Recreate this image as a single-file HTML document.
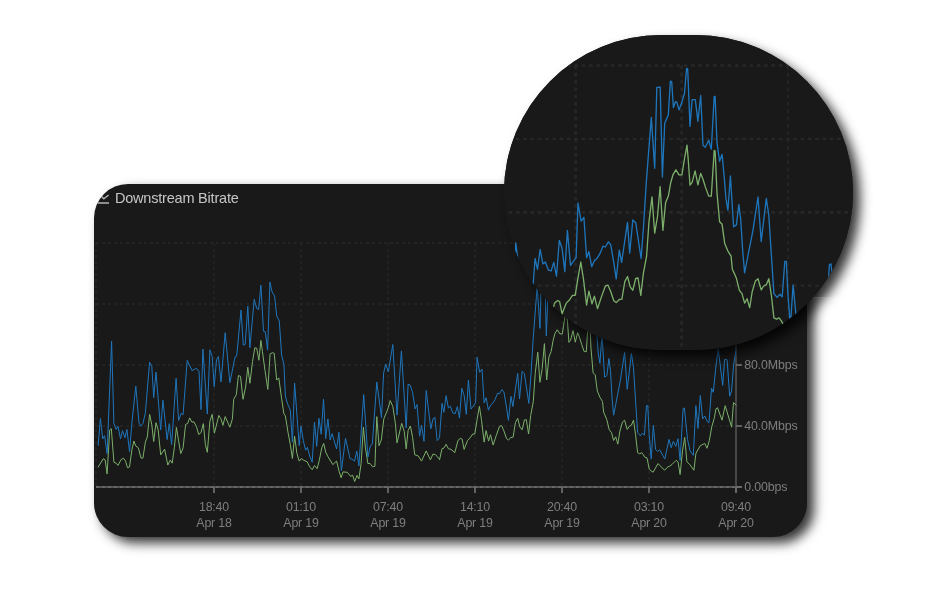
<!DOCTYPE html>
<html lang="en">
<head>
<meta charset="utf-8">
<title>Downstream Bitrate</title>
<style>
html,body{margin:0;padding:0;background:#fff;}
body{width:940px;height:600px;position:relative;overflow:hidden;font-family:"Liberation Sans",sans-serif;}
.card{position:absolute;left:93.6px;top:183.6px;width:713.2px;height:353px;background:#191919;border-radius:34px 0 34px 34px;box-shadow:7px 6px 12px rgba(0,0,0,.8);overflow:hidden;}
.lens{position:absolute;left:0;top:0;width:940px;height:600px;clip-path:polygon(0 0,940px 0,940px 297.3px,806.8px 297.3px,806.8px 600px,0 600px);}
.card svg{position:absolute;left:-93.6px;top:-183.6px;}
.mag{position:absolute;left:504px;top:35px;width:348.5px;height:315.3px;background:#191919;border-radius:158px;overflow:hidden;}
.ms{position:absolute;left:504px;top:35px;width:348.5px;height:315.3px;border-radius:158px;background:#191919;}
.weak{position:absolute;left:0;top:0;width:940px;height:600px;clip-path:polygon(806.8px 297.3px,940px 297.3px,940px 600px,806.8px 600px);}
.mag svg{position:absolute;left:-504px;top:-35px;}
svg text{font-family:"Liberation Sans",sans-serif;}
.title{font-size:14.5px;fill:#c6c6c6;letter-spacing:-0.2px;}
.xl text{font-size:12.4px;letter-spacing:-0.2px;fill:#7e7e7e;text-anchor:middle;}
.yl text{font-size:12.4px;letter-spacing:-0.15px;fill:#7e7e7e;}
.grid path{stroke:#272727;stroke-width:1.6;stroke-dasharray:3 3;fill:none;}
.grid path.v{stroke-width:1.35;}
.mgrid path{stroke:#272727;stroke-dasharray:3.65 3.65;fill:none;}
.axis path{stroke:#555555;stroke-width:1.8;fill:none;}
.ticks path{stroke:#707070;stroke-width:1.7;fill:none;}
.s{fill:none;stroke-linejoin:round;stroke-linecap:round;}
.b{stroke:#1f76bd;}
.g{stroke:#7cb06b;}
.m1{stroke-width:1.0;}
.m2{stroke-width:1.3;filter:url(#soft);}
</style>
</head>
<body>
<div class="card">
<svg width="940" height="600" viewBox="0 0 940 600">
<g class="grid"><path class="v" d="M96 243V487" /><path class="v" d="M214 243V487" /><path class="v" d="M301 243V487" /><path class="v" d="M388 243V487" /><path class="v" d="M475 243V487" /><path class="v" d="M562 243V487" /><path class="v" d="M649 243V487" /><path d="M96 243H736" /><path d="M96 304H736" /><path d="M96 365H736" /><path d="M96 426H736" /></g>
<g class="axis"><path d="M96 487H742"/><path d="M736 243V493" style="stroke:#4c4c4c"/><path d="M96 487H736" stroke-dasharray="3 3" style="stroke:#666"/></g>
<g class="ticks"><path d="M214 487V493"/><path d="M301 487V493"/><path d="M388 487V493"/><path d="M475 487V493"/><path d="M562 487V493"/><path d="M649 487V493"/><path d="M736 487V493"/><path d="M736 365H742"/><path d="M736 426H742"/><path d="M736 487H742"/></g>
<path class="s g m1" d="M98.2 467.0 L103.3 458.7 L105.2 460.0 L107.1 474.0 L109.7 430.0 L111.3 428.7 L113.9 462.2 L116.1 463.2 L118.0 465.4 L121.2 459.4 L123.7 458.3 L125.6 461.3 L127.5 467.7 L129.5 467.0 L132.0 449.1 L133.9 441.1 L135.8 446.0 L138.4 447.9 L141.0 458.1 L142.9 458.1 L145.4 442.1 L147.3 437.0 L149.6 414.4 L151.8 424.9 L153.7 441.5 L156.0 422.7 L158.2 430.0 L160.7 454.9 L164.6 449.1 L167.8 465.1 L170.3 460.0 L172.2 463.2 L174.4 447.2 L176.4 427.4 L178.6 440.9 L180.8 453.6 L183.1 447.9 L185.6 424.3 L187.6 423.6 L189.7 417.9 L192.0 422.3 L193.9 421.7 L196.5 426.8 L198.7 434.5 L201.0 432.6 L203.3 423.6 L205.4 444.7 L207.3 452.3 L209.9 421.1 L212.2 414.3 L214.4 433.2 L218.8 415.4 L221.0 418.9 L222.9 425.3 L225.2 416.6 L229.9 427.2 L232.4 418.9 L233.7 399.3 L236.3 394.8 L238.4 375.6 L240.5 376.3 L243.0 399.3 L245.6 387.1 L247.8 367.3 L249.9 383.3 L252.5 361.6 L254.8 347.8 L256.7 348.2 L258.9 360.3 L260.9 340.4 L262.4 351.4 L265.0 370.5 L267.8 389.4 L270.1 353.9 L272.4 352.7 L274.2 353.3 L276.7 380.1 L278.8 377.9 L281.6 398.6 L283.9 413.9 L285.4 415.9 L288.0 432.3 L290.3 444.5 L292.4 458.5 L294.6 436.2 L296.9 453.4 L299.2 461.1 L301.4 458.5 L303.9 460.4 L307.1 461.7 L309.7 466.8 L312.2 469.7 L314.5 465.5 L317.1 468.7 L319.3 460.4 L321.8 447.7 L323.7 443.4 L325.7 452.1 L327.9 456.6 L332.8 464.6 L336.6 461.1 L339.1 471.3 L341.1 477.7 L343.0 471.9 L347.4 472.3 L350.6 476.4 L352.6 475.1 L354.7 481.5 L357.0 475.4 L358.9 478.9 L361.1 463.6 L363.4 427.2 L365.3 447.0 L367.9 463.6 L370.0 463.4 L372.6 466.8 L374.9 466.2 L376.8 416.6 L379.0 445.7 L381.3 440.0 L383.8 418.9 L386.4 412.6 L388.3 407.7 L390.2 400.6 L392.8 406.4 L395.3 422.8 L397.0 442.9 L401.7 423.4 L404.3 431.7 L406.2 448.9 L408.1 430.4 L410.4 426.0 L412.6 437.4 L414.7 454.7 L418.3 456.0 L421.5 461.1 L426.2 450.9 L430.4 459.8 L433.0 454.0 L435.5 454.7 L439.4 459.1 L439.5 460.0 L442.0 448.7 L443.9 448.1 L446.1 444.3 L448.4 448.7 L451.0 449.4 L454.8 452.6 L458.0 440.4 L460.5 438.3 L462.1 439.1 L464.1 449.4 L467.6 440.4 L470.1 437.9 L472.7 434.0 L474.8 434.0 L477.1 419.4 L479.4 406.3 L481.6 420.6 L484.1 442.1 L486.1 430.6 L488.6 441.1 L490.5 434.7 L493.1 445.1 L496.3 435.3 L499.5 426.4 L501.6 425.5 L503.9 430.9 L506.5 438.5 L508.4 440.0 L511.0 437.5 L513.1 437.2 L515.4 422.6 L517.7 418.3 L519.9 427.0 L522.1 429.8 L524.4 420.0 L526.3 419.6 L528.6 434.0 L530.7 415.5 L533.3 401.5 L535.2 373.6 L537.8 352.2 L539.9 382.3 L542.2 368.5 L544.4 343.6 L546.7 380.0 L548.9 357.0 L551.2 351.3 L553.1 340.4 L554.9 333.7 L557.3 329.7 L559.9 333.9 L562.3 333.9 L564.4 320.5 L566.4 309.1 L567.5 322.1 L568.9 342.4 L570.6 340.1 L573.0 330.6 L575.3 342.2 L577.6 332.7 L579.5 337.4 L581.6 344.3 L584.2 351.6 L586.3 351.6 L588.7 313.6 L589.5 314.1 L591.0 348.6 L593.1 372.8 L595.2 374.9 L597.3 390.9 L599.9 397.2 L602.5 401.5 L603.6 412.1 L606.7 419.3 L609.3 429.9 L611.5 432.6 L613.6 440.5 L615.7 436.8 L617.8 444.2 L619.9 431.0 L622.5 422.0 L624.6 420.2 L627.2 429.4 L629.3 426.2 L631.4 425.1 L633.5 420.2 L635.5 434.2 L637.6 452.7 L639.7 453.8 L641.8 452.7 L643.4 454.9 L644.8 457.2 L647.0 457.9 L649.3 469.4 L653.1 472.3 L657.9 463.6 L660.7 466.2 L664.6 470.3 L667.8 466.8 L669.7 466.2 L672.2 464.3 L676.1 460.4 L678.0 461.7 L680.1 474.5 L682.5 450.9 L684.7 437.4 L686.9 461.7 L690.1 464.9 L693.9 470.3 L695.9 453.4 L700.3 445.7 L704.8 443.4 L707.0 448.3 L709.3 440.6 L711.8 426.6 L714.4 417.7 L715.9 408.9 L717.5 407.7 L722.0 420.2 L725.2 405.7 L731.6 427.2 L733.5 402.6 L736.1 405.1"/>
<path class="s b m1" d="M98.2 445.3 L100.4 418.5 L102.7 438.9 L104.6 435.7 L107.1 453.6 L111.6 341.2 L113.9 423.6 L116.1 429.4 L118.0 426.2 L120.5 438.9 L122.5 430.6 L125.0 437.7 L126.9 429.4 L129.5 451.7 L132.0 421.7 L135.8 386.2 L139.0 423.0 L140.7 426.2 L142.9 423.6 L145.4 412.8 L149.6 362.2 L151.8 366.4 L153.7 397.7 L156.0 372.1 L160.7 430.0 L162.9 400.2 L167.1 439.6 L169.3 423.6 L171.6 444.7 L176.1 378.3 L178.6 420.4 L181.2 413.4 L183.1 414.7 L187.2 360.4 L192.0 370.6 L196.5 368.3 L199.0 371.5 L201.0 409.6 L202.9 349.1 L207.3 414.0 L209.9 349.8 L212.2 356.8 L214.2 386.5 L216.5 359.7 L218.4 356.5 L221.0 382.0 L225.2 332.7 L229.9 382.7 L235.0 357.1 L236.7 356.2 L241.0 310.1 L243.3 345.2 L245.2 344.6 L247.8 306.3 L249.9 347.8 L254.2 299.3 L256.7 308.4 L258.6 309.5 L260.9 285.2 L263.5 331.2 L265.3 331.8 L267.6 350.1 L269.9 282.0 L272.0 291.6 L274.6 296.1 L276.7 315.9 L279.3 321.0 L281.6 355.2 L283.9 364.1 L285.4 396.1 L287.3 403.1 L290.3 410.1 L292.4 441.9 L294.6 383.0 L299.2 445.7 L301.0 426.0 L303.3 440.6 L305.6 450.2 L307.4 447.3 L309.7 456.0 L312.2 462.3 L314.5 422.1 L316.7 446.4 L318.9 418.3 L321.2 434.3 L323.5 399.3 L325.7 438.7 L327.9 418.9 L330.2 440.0 L332.1 433.6 L336.6 448.9 L338.9 432.3 L341.4 470.6 L345.5 438.3 L350.0 458.5 L351.9 459.1 L354.5 461.1 L356.8 451.1 L358.9 465.9 L363.7 394.6 L367.9 457.2 L370.4 445.7 L372.3 444.2 L376.8 382.1 L381.5 417.7 L383.6 373.2 L385.7 364.0 L388.3 371.9 L392.8 344.5 L397.0 415.1 L401.4 350.9 L406.2 427.9 L408.1 384.4 L410.0 384.9 L412.6 392.3 L415.1 408.9 L417.0 404.5 L419.6 436.2 L421.5 425.3 L424.0 441.3 L426.2 390.4 L430.8 428.9 L433.0 418.9 L434.9 417.4 L437.2 440.6 L437.2 440.4 L439.5 437.9 L442.0 403.4 L443.9 412.3 L446.1 395.7 L448.4 407.9 L450.3 406.3 L452.9 413.0 L455.2 413.6 L457.3 406.6 L459.5 418.1 L461.8 388.3 L464.1 395.1 L466.3 414.3 L468.4 380.0 L471.0 409.1 L475.6 402.8 L477.1 357.3 L479.7 372.3 L482.0 369.1 L484.1 402.8 L486.1 397.7 L488.4 410.2 L490.5 405.3 L493.1 402.8 L495.0 399.6 L497.6 393.2 L499.5 393.8 L502.0 389.6 L503.9 391.9 L506.2 405.3 L508.4 420.4 L511.0 396.4 L512.9 406.6 L517.7 373.4 L519.5 398.9 L522.1 371.3 L524.4 373.6 L528.8 403.4 L530.9 376.0 L533.0 341.2 L537.2 286.2 L540.0 328.4 L541.7 261.2 L544.5 261.0 L546.3 335.9 L548.1 290.9 L551.1 284.1 L552.9 255.9 L553.9 256.5 L555.2 277.9 L557.0 272.9 L558.1 273.4 L559.9 279.8 L561.7 275.0 L564.4 266.0 L566.1 245.3 L567.0 245.9 L568.9 293.6 L570.6 271.3 L573.2 271.3 L575.3 289.4 L577.6 267.9 L579.5 309.3 L581.4 310.9 L584.2 305.1 L586.3 312.5 L588.7 268.7 L589.5 268.7 L591.0 307.2 L593.1 322.6 L595.2 316.8 L596.8 333.7 L598.3 353.9 L599.9 363.3 L602.0 334.8 L604.6 377.1 L606.9 375.5 L608.9 358.5 L610.5 370.7 L612.0 397.2 L613.6 415.2 L615.7 404.6 L620.4 380.2 L624.6 352.3 L627.2 389.3 L629.3 371.8 L631.4 353.4 L633.5 367.5 L635.0 391.9 L637.6 432.6 L640.3 435.8 L642.4 433.1 L644.4 435.2 L646.5 405.7 L647.8 405.7 L649.1 434.2 L651.2 459.1 L653.3 425.3 L655.6 449.6 L657.5 451.5 L659.7 449.8 L662.0 454.0 L664.8 459.1 L669.0 439.4 L671.2 447.7 L673.3 441.3 L675.8 446.4 L678.0 438.7 L680.1 460.4 L683.1 408.7 L684.4 407.9 L687.5 439.4 L690.1 450.9 L693.3 455.3 L695.9 405.7 L698.0 428.5 L700.3 395.5 L702.6 418.9 L704.8 416.1 L707.3 421.5 L709.0 422.8 L711.5 388.3 L713.3 392.3 L715.6 369.4 L718.2 348.9 L722.7 385.3 L724.6 359.4 L727.1 359.8 L729.7 396.2 L731.6 391.1 L733.5 365.5 L736.1 348.9"/>
<g fill="none" stroke="#b4b4b4" stroke-width="1.3"><path d="M98 203H109"/><path d="M100.8 195.8L103.8 198.8L108.6 194.9"/></g>
<text class="title" x="114.9" y="202.5">Downstream Bitrate</text>
<g class="xl"><text x="214" y="511.2">18:40</text><text x="214" y="526.9">Apr 18</text><text x="301" y="511.2">01:10</text><text x="301" y="526.9">Apr 19</text><text x="388" y="511.2">07:40</text><text x="388" y="526.9">Apr 19</text><text x="475" y="511.2">14:10</text><text x="475" y="526.9">Apr 19</text><text x="562" y="511.2">20:40</text><text x="562" y="526.9">Apr 19</text><text x="649" y="511.2">03:10</text><text x="649" y="526.9">Apr 20</text><text x="736" y="511.2">09:40</text><text x="736" y="526.9">Apr 20</text></g>
<g class="yl"><text x="744.3" y="369.2">80.0Mbps</text><text x="744.3" y="430.2">40.0Mbps</text><text x="744.3" y="491.2">0.00bps</text></g>
</svg>
</div>
<div class="weak"><div class="ms" style="box-shadow:7px 7px 12px rgba(0,0,0,.68)"></div></div>
<div class="lens"><div class="ms" style="box-shadow:7px 7px 12px rgba(0,0,0,.8)"></div></div>
<div class="mag">
<svg width="940" height="600" viewBox="0 0 940 600">
<defs><filter id="soft" x="-5%" y="-5%" width="110%" height="110%"><feGaussianBlur stdDeviation="0.4"/></filter></defs>
<g class="mgrid"><path stroke-width="2.7" d="M575.6 65.5V360" /><path stroke-width="2.7" d="M681.6 65.5V360" /><path stroke-width="1.7" d="M788 65.5V360" /><path stroke-width="2.6" d="M479.4 65.5H894" /><path stroke-width="2.1" d="M479.4 138.9H894" /><path stroke-width="2.6" d="M479.4 212.4H894" /><path stroke-width="2.3" d="M479.4 285.7H894" /></g>
<path class="s g m2" d="M115.4 335.1 L121.7 325.1 L124.0 326.6 L126.3 343.5 L129.5 290.5 L131.5 289.0 L134.6 329.2 L137.2 330.5 L139.6 333.1 L143.5 325.8 L146.6 324.6 L148.9 328.2 L151.3 335.8 L153.6 335.1 L156.7 313.6 L159.1 303.9 L161.4 309.7 L164.5 312.0 L167.6 324.3 L170.0 324.3 L173.1 305.1 L175.4 299.0 L178.2 271.8 L180.9 284.4 L183.2 304.3 L186.0 281.8 L188.7 290.5 L191.8 320.5 L196.5 313.6 L200.4 332.8 L203.5 326.6 L205.8 330.5 L208.5 311.2 L211.0 287.4 L213.6 303.6 L216.3 318.9 L219.1 312.0 L222.2 283.6 L224.5 282.8 L227.2 275.9 L230.0 281.3 L232.3 280.5 L235.4 286.7 L238.1 295.9 L240.9 293.6 L243.7 282.8 L246.3 308.2 L248.7 317.4 L251.8 279.8 L254.6 271.6 L257.2 294.4 L262.6 272.9 L265.3 277.2 L267.6 284.9 L270.4 274.4 L276.2 287.2 L279.3 277.2 L280.9 253.5 L284.0 248.1 L286.6 225.1 L289.1 225.9 L292.2 253.5 L295.4 238.9 L298.0 215.1 L300.7 234.3 L303.8 208.2 L306.6 191.6 L308.9 192.1 L311.6 206.7 L314.1 182.7 L315.9 195.9 L319.1 219.0 L322.5 241.7 L325.3 199.0 L328.1 197.5 L330.3 198.2 L333.4 230.5 L335.9 227.9 L339.3 252.8 L342.1 271.2 L344.0 273.5 L347.1 293.3 L349.9 307.9 L352.6 324.8 L355.2 297.9 L358.0 318.7 L360.8 327.9 L363.5 324.8 L366.6 327.1 L370.5 328.7 L373.6 334.8 L376.7 338.3 L379.5 333.3 L382.6 337.1 L385.3 327.1 L388.4 311.8 L390.7 306.7 L393.2 317.1 L395.8 322.5 L401.8 332.2 L406.5 327.9 L409.6 340.2 L411.9 347.9 L414.2 340.9 L419.7 341.4 L423.6 346.3 L425.9 344.8 L428.6 352.5 L431.4 345.1 L433.7 349.4 L436.4 331.0 L439.2 287.2 L441.5 311.0 L444.6 331.0 L447.3 330.7 L450.4 334.8 L453.2 334.0 L455.5 274.4 L458.2 309.5 L461.0 302.5 L464.1 277.2 L467.2 269.5 L469.6 263.6 L471.9 255.2 L475.0 262.1 L478.1 281.8 L480.2 306.1 L485.9 282.6 L489.0 292.6 L491.4 313.3 L493.7 291.0 L496.5 285.7 L499.2 299.5 L501.8 320.2 L506.2 321.8 L510.1 327.9 L515.8 315.6 L521.0 326.4 L524.1 319.4 L527.2 320.2 L531.9 325.6 L532.0 326.6 L535.1 313.0 L537.5 312.3 L540.1 307.7 L542.9 313.0 L546.1 313.8 L550.7 317.7 L554.6 303.1 L557.7 300.5 L559.6 301.5 L562.1 313.8 L566.3 303.1 L569.4 300.0 L572.5 295.4 L575.2 295.4 L578.0 277.7 L580.8 262.0 L583.5 279.3 L586.6 305.1 L588.9 291.2 L592.0 303.8 L594.4 296.1 L597.5 308.7 L601.4 296.9 L605.3 286.2 L607.9 285.1 L610.7 291.5 L613.8 300.8 L616.2 302.6 L619.3 299.5 L621.9 299.2 L624.8 281.6 L627.5 276.5 L630.2 286.9 L632.8 290.3 L635.7 278.5 L638.0 278.0 L640.8 295.4 L643.4 273.1 L646.6 256.2 L648.9 222.7 L652.0 196.9 L654.7 233.1 L657.5 216.5 L660.1 186.6 L662.9 230.4 L665.6 202.7 L668.4 195.8 L670.7 182.7 L673.0 174.7 L675.9 169.8 L679.0 174.9 L681.9 174.9 L684.5 158.7 L687.0 145.1 L688.3 160.6 L690.0 185.2 L692.1 182.3 L695.1 170.8 L697.9 184.9 L700.7 173.4 L703.0 179.2 L705.5 187.4 L708.7 196.1 L711.3 196.1 L714.2 150.4 L715.1 151.1 L717.0 192.6 L719.6 221.7 L722.1 224.3 L724.7 243.4 L727.9 251.1 L731.1 256.2 L732.3 268.9 L736.2 277.7 L739.4 290.4 L742.0 293.6 L744.6 303.2 L747.1 298.7 L749.7 307.7 L752.2 291.7 L755.4 280.9 L758.0 278.7 L761.2 289.8 L763.7 286.0 L766.3 284.7 L768.8 278.7 L771.4 295.5 L773.9 317.9 L776.5 319.2 L779.0 317.9 L781.0 320.4 L782.7 323.3 L785.3 324.1 L788.1 337.9 L792.8 341.4 L798.7 331.0 L802.1 334.0 L806.8 339.0 L810.7 334.8 L813.0 334.0 L816.2 331.7 L820.8 327.1 L823.2 328.7 L825.8 344.0 L828.6 315.6 L831.4 299.5 L834.1 328.7 L838.0 332.5 L842.7 339.0 L845.0 318.7 L850.4 309.5 L855.9 306.7 L858.6 312.5 L861.4 303.3 L864.5 286.4 L867.6 275.7 L869.5 265.2 L871.5 263.6 L876.9 278.7 L880.8 261.3 L888.6 287.2 L891.0 257.5 L894.1 260.6"/>
<path class="s b m2" d="M115.4 309.0 L118.1 276.7 L120.9 301.3 L123.2 297.4 L126.3 318.9 L131.8 183.7 L134.6 282.8 L137.2 289.7 L139.6 285.9 L142.7 301.3 L145.0 291.3 L148.2 299.7 L150.5 289.7 L153.6 316.6 L156.7 280.5 L161.4 237.8 L165.3 282.1 L167.3 285.9 L170.0 282.8 L173.1 269.8 L178.2 208.9 L180.9 214.0 L183.2 251.6 L186.0 220.9 L191.8 290.5 L194.4 254.7 L199.6 302.0 L202.2 282.8 L205.0 308.2 L210.5 228.3 L213.6 279.0 L216.7 270.5 L219.1 272.1 L224.0 206.7 L230.0 219.0 L235.4 216.3 L238.5 220.1 L240.9 265.9 L243.2 193.2 L248.7 271.3 L251.8 194.0 L254.6 202.4 L257.0 238.2 L259.8 205.9 L262.2 202.1 L265.3 232.8 L270.4 173.4 L276.2 233.6 L282.4 202.8 L284.5 201.7 L289.8 146.3 L292.6 188.5 L294.9 187.7 L298.0 141.6 L300.7 191.6 L305.8 133.2 L308.9 144.3 L311.3 145.5 L314.1 116.3 L317.2 171.6 L319.4 172.4 L322.2 194.4 L325.0 112.5 L327.6 124.0 L330.7 129.3 L333.4 153.2 L336.5 159.3 L339.3 200.5 L342.1 211.3 L344.0 249.7 L346.3 258.1 L349.9 266.6 L352.6 304.8 L355.2 234.0 L360.8 309.5 L363.0 285.7 L365.8 303.3 L368.6 314.8 L370.8 311.3 L373.6 321.8 L376.7 329.4 L379.5 281.0 L382.2 310.2 L384.8 276.4 L387.6 295.6 L390.4 253.5 L393.2 301.0 L395.8 277.2 L398.7 302.5 L401.0 294.9 L406.5 313.3 L409.2 293.3 L412.4 339.4 L417.4 300.6 L422.8 324.8 L425.1 325.6 L428.3 327.9 L431.1 315.9 L433.7 333.7 L439.5 248.0 L444.6 323.3 L447.8 309.5 L450.1 307.6 L455.5 232.9 L461.3 275.7 L463.8 222.2 L466.4 211.1 L469.6 220.6 L475.0 187.6 L480.2 272.6 L485.6 195.3 L491.4 288.0 L493.7 235.7 L496.1 236.3 L499.2 245.2 L502.3 265.2 L504.6 259.8 L507.7 297.9 L510.1 284.9 L513.2 304.1 L515.8 242.9 L521.5 289.2 L524.1 277.2 L526.4 275.4 L529.2 303.3 L529.2 303.1 L532.0 300.0 L535.1 258.5 L537.5 269.3 L540.1 249.3 L542.9 263.9 L545.3 262.0 L548.4 270.0 L551.2 270.8 L553.8 262.4 L556.5 276.2 L559.3 240.3 L562.1 248.5 L564.8 271.6 L567.4 230.4 L570.5 265.4 L576.1 257.7 L578.0 203.0 L581.1 221.1 L583.9 217.3 L586.6 257.7 L588.9 251.6 L591.7 266.7 L594.4 260.8 L597.5 257.7 L599.8 253.9 L602.9 246.2 L605.3 247.0 L608.4 241.9 L610.7 244.7 L613.5 260.8 L616.2 278.9 L619.3 250.1 L621.6 262.4 L627.5 222.4 L629.7 253.1 L632.8 219.9 L635.7 222.7 L641.1 258.5 L643.6 225.5 L646.2 183.6 L651.3 117.4 L654.7 168.3 L656.8 87.4 L660.2 87.2 L662.4 177.2 L664.7 123.2 L668.3 114.9 L670.4 81.1 L671.7 81.7 L673.4 107.5 L675.5 101.5 L676.8 102.1 L679.0 109.8 L681.3 104.0 L684.5 93.2 L686.6 68.3 L687.7 68.9 L690.0 126.4 L692.1 99.6 L695.3 99.6 L697.9 121.3 L700.7 95.5 L703.0 145.3 L705.3 147.2 L708.7 140.2 L711.3 149.2 L714.2 96.4 L715.1 96.4 L717.0 142.8 L719.6 161.3 L722.1 154.3 L724.0 174.7 L726.0 198.9 L727.9 210.2 L730.4 176.0 L733.6 226.8 L736.4 224.9 L738.8 204.5 L740.7 219.1 L742.7 251.1 L744.6 272.8 L747.1 260.0 L752.9 230.6 L758.0 197.0 L761.2 241.5 L763.7 220.4 L766.3 198.3 L768.8 215.3 L770.7 244.7 L773.9 293.6 L777.1 297.4 L779.7 294.3 L782.2 296.8 L784.8 261.3 L786.3 261.3 L788.0 295.5 L790.4 325.6 L793.1 284.9 L795.9 314.1 L798.2 316.4 L800.9 314.4 L803.7 319.4 L807.1 325.6 L812.3 301.8 L814.9 311.8 L817.4 304.1 L820.5 310.2 L823.2 301.0 L825.8 327.1 L829.4 264.9 L831.0 263.9 L834.9 301.8 L838.0 315.6 L841.9 321.0 L845.0 261.3 L847.6 288.7 L850.4 249.0 L853.3 277.2 L855.9 273.8 L859.0 280.3 L861.0 281.8 L864.2 240.3 L866.3 245.2 L869.1 217.5 L872.3 193.0 L877.7 236.8 L880.0 205.6 L883.2 206.0 L886.3 249.8 L888.6 243.7 L891.0 212.9 L894.1 193.0"/>
</svg>
</div>
</body>
</html>
